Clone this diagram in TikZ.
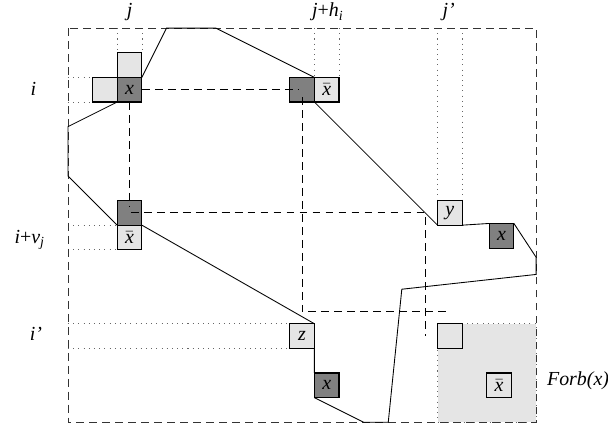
\documentclass[tikz,border=0pt]{standalone}
\usepackage{fontspec}
\setmainfont{Liberation Serif}
\begin{document}
\begin{tikzpicture}[x=0.5cm,y=-0.5cm,
  every node/.style={font=\fontsize{11.5}{14}\selectfont},
  cellbox/.style={draw,line width=0.6pt,minimum size=0.5cm,inner sep=0pt,outer sep=0pt,anchor=center},
  darkcell/.style={cellbox,fill=black!50},
  lightcell/.style={cellbox,fill=black!10},
  guide/.style={black!60,line width=0.4pt,dash pattern=on 0.6pt off 2.4pt},
  link/.style={line width=0.5pt,dash pattern=on 4.5pt off 3pt},
  frame/.style={black!80,line width=0.5pt,dash pattern=on 4.5pt off 3pt},
  boundary/.style={line width=0.5pt}]
\useasboundingbox (-2.76,-1.14) rectangle (21.92,16.24);
\def\ncols{19}
\def\nrows{16}

% Macro for one cell of the grid
\newcommand{\gridcell}[5]{
    \node[#4] (#1) at (#2+0.5,#3+0.5) {#5};
}
\newcommand{\barx}{$\bar{\mbox{\textit{x}}}$}

% Forbidden region
\draw[guide,fill=black!10] (15,12) rectangle (\ncols,\nrows);

% Guides from the labels
\draw[guide] (0,2) -- (1,2) (0,3) -- (1,3);
\draw[guide] (2,0) -- (2,1) (3,0) -- (3,1);
\draw[guide] (10,0) -- (10,2) (11,0) -- (11,2);
\draw[guide] (15,0) -- (15,7) (16,0) -- (16,7);
\draw[guide] (0,8) -- (2,8) (0,9) -- (2,9);
\draw[guide] (0,12) -- (9,12) (0,13) -- (9,13);

% Frame
\draw[frame] (0,0) rectangle (\ncols,\nrows);

% Cells
\gridcell{lA}{2}{1}{lightcell}{}
\gridcell{lB}{1}{2}{lightcell}{}
\gridcell{xA}{2}{2}{darkcell}{\textit{x}}
\gridcell{dB}{9}{2}{darkcell}{}
\gridcell{bB}{10}{2}{lightcell}{\barx}
\gridcell{dC}{2}{7}{darkcell}{}
\gridcell{bC}{2}{8}{lightcell}{\barx}
\gridcell{yC}{15}{7}{lightcell}{\textit{y}}
\gridcell{xC}{17.1}{7.93}{darkcell}{\textit{x}}
\gridcell{zD}{9}{12}{lightcell}{\textit{z}}
\gridcell{xD}{10}{14}{darkcell}{\textit{x}}
\gridcell{fE}{15}{12}{lightcell}{}
\gridcell{bE}{17}{14}{lightcell}{\barx}

% Dependencies
\coordinate (hA) at (9.35,2.5);
\coordinate (vB) at (9.5,2.8);
\coordinate (kB) at (9.5,11.5);
\coordinate (eB) at (15.5,11.5);
\coordinate (vA) at (2.5,7.25);
\coordinate (hC) at (2.55,7.5);
\coordinate (kC) at (14.5,7.5);
\coordinate (eC) at (14.5,12.5);
\draw[link] (xA.east) -- (hA);
\draw[link] (vB) -- (kB) -- (eB);
\draw[link] (xA.south) -- (vA);
\draw[link] (hC) -- (kC) -- (eC);

% Boundary
\coordinate (t1) at (4,0);
\coordinate (t2) at (6,0);
\coordinate (r1) at (\ncols,9.3);
\coordinate (r2) at (\ncols,10);
\coordinate (m1) at (13.55,10.6);
\coordinate (b1) at (13,\nrows);
\coordinate (b2) at (12,\nrows);
\coordinate (l1) at (0,6);
\coordinate (l2) at (0,4);
\draw[boundary] (xA.north east) -- (t1) -- (t2) -- (bB.north west);
\draw[boundary] (bB.south west) -- (yC.south west);
\draw[boundary] (yC.south east) -- (xC.north west);
\draw[boundary] (xC.north east) -- (r1) -- (r2) -- (m1) -- (b1) -- (b2) -- (xD.south west);
\draw[boundary] (xD.north west) -- (zD.south east);
\draw[boundary] (zD.north east) -- (dC.south east);
\draw[boundary] (bC.north west) -- (l1) -- (l2) -- (xA.south west);

% Labels
\node[anchor=base] (lj) at (2.5,-0.45) {\textit{j}};
\node[anchor=base] (ljh) at (10.55,-0.45) {\textit{j}+\textit{h}\textsubscript{\textit{i}}};
\node[anchor=base] (ljp) at (15.45,-0.45) {\textit{j'}};
\node[anchor=base] (li) at (-1.4,2.72) {\textit{i}};
\node[anchor=base] (liv) at (-1.55,8.73) {\textit{i}+\textit{v}\textsubscript{\textit{j}}};
\node[anchor=base] (lip) at (-1.3,12.67) {\textit{i'}};
\node[anchor=base west] (forb) at (19.2,14.5) {\textit{Forb(x)}};

\end{tikzpicture}
\end{document}
